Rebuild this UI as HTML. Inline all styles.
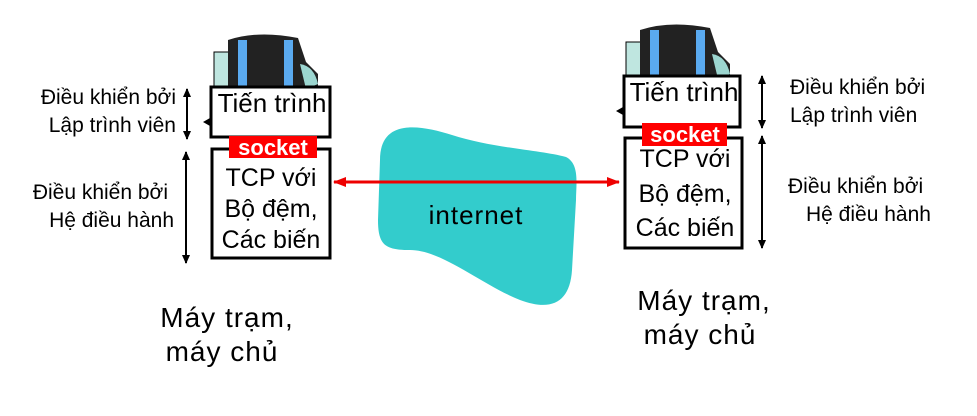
<!DOCTYPE html>
<html><head><meta charset="utf-8"><style>
body{margin:0;background:#fff;}
svg text{font-family:"Comic Sans MS","Liberation Sans","DejaVu Sans",sans-serif;fill:#000;}
</style></head><body>
<svg width="977" height="411" viewBox="0 0 977 411" xmlns="http://www.w3.org/2000/svg">
<defs>
<marker id="ab" markerUnits="userSpaceOnUse" markerWidth="10" markerHeight="10" refX="8" refY="5" orient="auto-start-reverse"><path d="M0,1 L9,5 L0,9 Z" fill="#000"/></marker>
<marker id="ar" markerUnits="userSpaceOnUse" markerWidth="14" markerHeight="12" refX="12" refY="6" orient="auto-start-reverse"><path d="M0,1 L13,6 L0,11 Z" fill="#e00"/></marker>
<g id="pc">
<rect x="0" y="18" width="16" height="40" fill="#bfe6e0" stroke="#000" stroke-width="1"/>
<path d="M14,6 Q44,-4 84,4 L92,28 L104,40 L104,55 L14,55 Z" fill="#222"/>
<rect x="24" y="6" width="9" height="50" fill="#5aaaf0"/>
<rect x="70" y="6" width="9" height="50" fill="#5aaaf0"/>
<path d="M86,30 Q100,32 104,50 L92,55 Z" fill="#9cd6d0"/>
</g>
</defs>
<path d="M380,160 C380,118 420,125 452,135 C492,148 540,150 566,157 C580,164 576,185 576,200 L572,270 C570,302 552,312 520,300 C482,285 442,250 410,250 C385,250 378,245 378,220 Z" fill="#33cccc"/>
<text x="476" y="224" font-size="26" letter-spacing="1" text-anchor="middle">internet</text>

<use href="#pc" x="214" y="34"/>
<rect x="211" y="87" width="119" height="50" fill="#fff" stroke="#000" stroke-width="3"/>
<text x="272" y="112" font-size="26" text-anchor="middle">Tiến trình</text>
<rect x="212" y="149" width="118" height="109" fill="#fff" stroke="#000" stroke-width="3"/>
<rect x="229" y="136" width="88" height="22" fill="#f00"/>
<text x="273" y="155" font-size="22" font-weight="bold" style="fill:#fff" text-anchor="middle">socket</text>
<text x="271" y="186" font-size="25" text-anchor="middle">TCP với</text>
<text x="271" y="217" font-size="25" text-anchor="middle">Bộ đệm,</text>
<text x="271" y="248" font-size="25" text-anchor="middle">Các biến</text>
<path d="M210,118 L203,122 L210,126 Z" fill="#000"/>

<use href="#pc" x="626" y="24"/>
<rect x="624" y="76" width="116" height="51" fill="#fff" stroke="#000" stroke-width="3"/>
<text x="684" y="101" font-size="26" text-anchor="middle">Tiến trình</text>
<rect x="625" y="138" width="117" height="110" fill="#fff" stroke="#000" stroke-width="3"/>
<rect x="642" y="123" width="85" height="23" fill="#f00"/>
<text x="685" y="142" font-size="22" font-weight="bold" style="fill:#fff" text-anchor="middle">socket</text>
<text x="685" y="167" font-size="25" text-anchor="middle">TCP với</text>
<text x="685" y="202" font-size="25" text-anchor="middle">Bộ đệm,</text>
<text x="685" y="236" font-size="25" text-anchor="middle">Các biến</text>
<path d="M623,107 L616,111 L623,115 Z" fill="#000"/>

<line x1="334" y1="182" x2="619" y2="182" stroke="#e00" stroke-width="3" marker-start="url(#ar)" marker-end="url(#ar)"/>

<g stroke="#000" stroke-width="2">
<line x1="187" y1="89" x2="187" y2="139" marker-start="url(#ab)" marker-end="url(#ab)"/>
<line x1="186" y1="152" x2="186" y2="263" marker-start="url(#ab)" marker-end="url(#ab)"/>
<line x1="762" y1="76" x2="762" y2="128" marker-start="url(#ab)" marker-end="url(#ab)"/>
<line x1="762" y1="136" x2="762" y2="248" marker-start="url(#ab)" marker-end="url(#ab)"/>
</g>

<g font-size="21">
<text x="176" y="104" text-anchor="end">Điều khiển bởi</text>
<text x="176" y="132" text-anchor="end">Lập trình viên</text>
<text x="168" y="199" text-anchor="end">Điều khiển bởi</text>
<text x="174" y="227" text-anchor="end">Hệ điều hành</text>
<text x="790" y="94">Điều khiển bởi</text>
<text x="790" y="122">Lập trình viên</text>
<text x="788" y="193">Điều khiển bởi</text>
<text x="806" y="221">Hệ điều hành</text>
</g>
<g font-size="28" letter-spacing="1" text-anchor="middle">
<text x="227" y="327">Máy trạm,</text>
<text x="222" y="361">máy chủ</text>
<text x="704" y="310">Máy trạm,</text>
<text x="700" y="344">máy chủ</text>
</g>
</svg>
</body></html>
